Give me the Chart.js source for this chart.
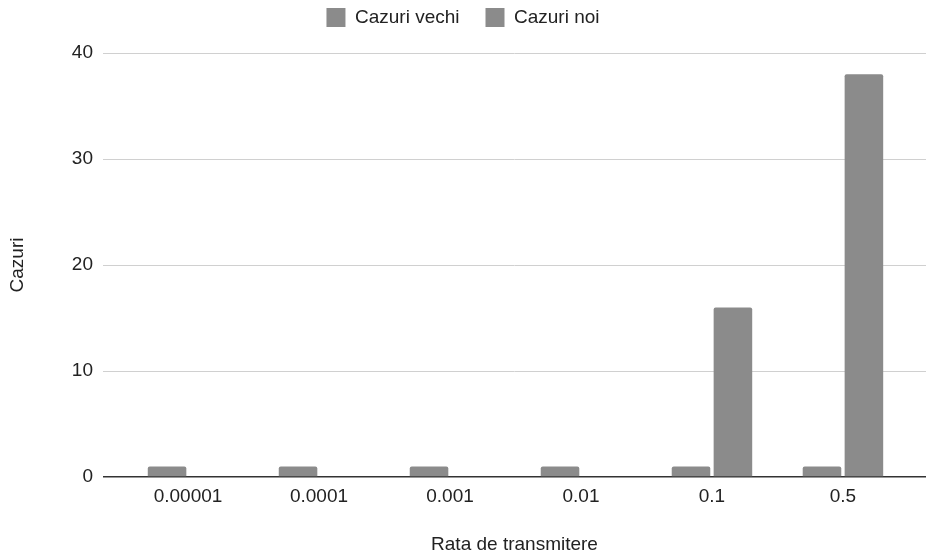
<!DOCTYPE html>
<html>
<head>
<meta charset="utf-8">
<script src="https://cdn.jsdelivr.net/npm/chart.js@4/dist/chart.umd.min.js"></script>
<style>
  html, body { margin: 0; padding: 0; background: #fff; }
  #wrap { width: 926px; height: 558px; }
</style>
</head>
<body>
<div id="wrap"><canvas id="myChart"></canvas></div>
<script>
// data
var categories = ["0.00001", "0.0001", "0.001", "0.01", "0.1", "0.5"];
var cazuriVechi = [1, 1, 1, 1, 1, 1];
var cazuriNoi = [0, 0, 0, 0, 16, 38];
var yTicks = [0, 10, 20, 30, 40];

var grey = "#8b8b8b";
var textCol = "#222";
var fontFam = "'Liberation Sans', Arial, sans-serif";

Chart.defaults.font.family = fontFam;
Chart.defaults.color = textCol;

function points(arr) {
  return arr.map(function (v, i) { return { x: i, y: v }; });
}

// push the chart area down below the legend
var legendGap = {
  id: "legendGap",
  beforeInit: function (chart) {
    var fit = chart.legend.fit;
    chart.legend.fit = function () {
      fit.bind(chart.legend)();
      this.height += 16;
    };
  }
};

var ctx = document.getElementById("myChart");
new Chart(ctx, {
  type: "bar",
  data: {
    datasets: [
      {
        label: "Cazuri vechi",
        data: points(cazuriVechi),
        backgroundColor: grey,
        borderRadius: 2,
        borderSkipped: "bottom"
      },
      {
        label: "Cazuri noi",
        data: points(cazuriNoi),
        backgroundColor: grey,
        borderRadius: 2,
        borderSkipped: "bottom"
      }
    ]
  },
  options: {
    responsive: true,
    maintainAspectRatio: false,
    animation: false,
    categoryPercentage: 0.64,
    barPercentage: 0.92,
    layout: { padding: { top: -18, left: 0, right: 0, bottom: 0 } },
    plugins: {
      tooltip: { enabled: false },
      legend: {
        position: "top",
        labels: {
          boxWidth: 19,
          boxHeight: 19,
          padding: 26,
          color: textCol,
          font: { size: 19 }
        }
      }
    },
    scales: {
      x: {
        type: "linear",
        offset: false,
        min: -0.649,
        max: 5.634,
        afterBuildTicks: function (s) {
          s.ticks = categories.map(function (c, i) { return { value: i }; });
        },
        afterFit: function (s) { s.height = 81; },
        grid: { display: false, drawTicks: false },
        border: { display: false },
        ticks: {
          autoSkip: false,
          maxRotation: 0,
          padding: 8,
          color: textCol,
          font: { size: 19 },
          callback: function (v) { return categories[v]; }
        },
        title: {
          display: true,
          text: "Rata de transmitere",
          color: textCol,
          font: { size: 19 },
          padding: { top: 4, bottom: 2 }
        }
      },
      y: {
        min: 0,
        max: 40,
        afterBuildTicks: function (s) {
          s.ticks = yTicks.map(function (v) { return { value: v }; });
        },
        afterFit: function (s) { s.width = 103; },
        border: { display: false },
        grid: {
          drawTicks: false,
          color: function (c) { return c.tick && c.tick.value === 0 ? "#333" : "#d0d0d0"; },
          lineWidth: function (c) { return c.tick && c.tick.value === 0 ? 1.6 : 1; }
        },
        ticks: {
          padding: 10,
          color: textCol,
          font: { size: 19 }
        },
        title: {
          display: true,
          text: "Cazuri",
          color: textCol,
          font: { size: 19 },
          padding: { top: 6, bottom: 0 }
        }
      }
    }
  },
  plugins: [legendGap]
});
</script>
</body>
</html>
